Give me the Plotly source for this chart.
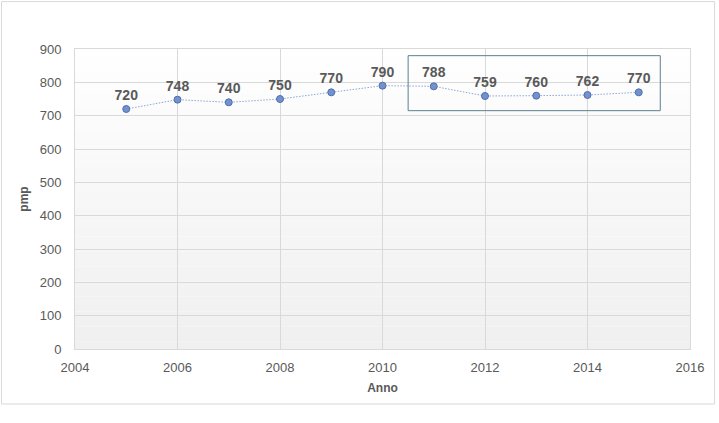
import plotly.graph_objects as go

# dati
anni = [2005, 2006, 2007, 2008, 2009, 2010, 2011, 2012, 2013, 2014, 2015]
pmp = [720, 748, 740, 750, 770, 790, 788, 759, 760, 762, 770]

grigio = '#595959'
font_base = 'Liberation Sans'

fig = go.Figure()

fig.add_trace(go.Scatter(
    x=anni, y=pmp,
    mode='lines+markers+text',
    text=[str(v) for v in pmp],
    textposition='top center',
    textfont=dict(family=font_base, size=14, color=grigio, weight='bold'),
    line=dict(color='#8ea6d6', width=1, dash='1.5px,1.5px'),
    marker=dict(size=7, color='#7391cf', line=dict(color='#4e6fae', width=1)),
    cliponaxis=False,
    showlegend=False,
))

# sfondo sfumato dell'area del grafico (bianco in alto, grigio chiaro in basso)
n = 40
for i in range(n):
    g = int(255 - (255 - 240) * (i / (n - 1)))
    fig.add_shape(type='rect', xref='x domain', yref='y domain',
                  x0=0, x1=1, y0=1 - (i + 1) / n, y1=1 - i / n,
                  fillcolor=f'rgb({g},{g},{g})', line_width=0, layer='below')

# riquadro attorno agli ultimi anni
fig.add_shape(type='rect', xref='x', yref='y',
              x0=2010.5, x1=2015.42, y0=715, y1=880,
              line=dict(color='#5f7f8f', width=1), fillcolor='rgba(0,0,0,0)')

# bordo esterno del grafico
fig.add_shape(type='rect', xref='paper', yref='paper',
              x0=-0.1195, x1=1.04, y0=-0.1833, y1=1.158,
              line=dict(color='#d9d9d9', width=1), fillcolor='rgba(0,0,0,0)')

fig.update_xaxes(
    range=[2004, 2016], dtick=2, tick0=2004,
    showgrid=True, gridcolor='#d9d9d9', gridwidth=1,
    showline=True, linecolor='#d9d9d9', mirror=True,
    zeroline=False, ticks='', ticklabelstandoff=6,
    tickfont=dict(family=font_base, size=13, color=grigio),
    title=dict(text='Anno', font=dict(family=font_base, size=12, color=grigio, weight='bold'), standoff=10),
)
fig.update_yaxes(
    range=[0, 900], dtick=100,
    showgrid=True, gridcolor='#d9d9d9', gridwidth=1,
    showline=True, linecolor='#d9d9d9', mirror=True,
    zeroline=False, ticks='', ticklabelstandoff=10,
    tickfont=dict(family=font_base, size=13, color=grigio),
    title=dict(text='pmp', font=dict(family=font_base, size=12, color=grigio, weight='bold'), standoff=8),
)

fig.update_layout(
    width=719, height=423,
    margin=dict(l=75, r=29, t=49, b=74),
    paper_bgcolor='white',
    plot_bgcolor='white',
)

fig.write_html('out.html', config={'displayModeBar': False},
               post_script="document.body.style.margin='0';")
